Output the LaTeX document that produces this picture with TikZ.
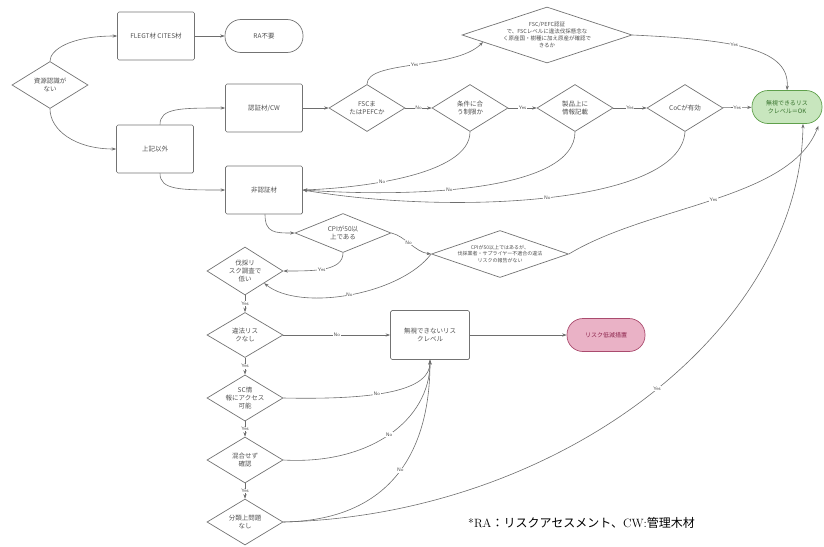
\documentclass[tikz,border=0pt]{standalone}
\usepackage{fontspec}
\newfontfamily\jp{Noto Sans CJK JP}
\usetikzlibrary{shapes.geometric,arrows.meta,calc}
\definecolor{linegray}{RGB}{110,110,110}
\definecolor{boxgray}{RGB}{115,115,115}
\definecolor{txtgray}{RGB}{80,80,80}
\definecolor{gfill}{RGB}{200,230,190}
\definecolor{gdraw}{RGB}{95,160,75}
\definecolor{gtext}{RGB}{55,115,45}
\definecolor{pfill}{RGB}{234,178,198}
\definecolor{pdraw}{RGB}{170,75,110}
\definecolor{ptext}{RGB}{140,35,75}
\begin{document}
\begin{tikzpicture}[x=1pt,y=-1pt,
  conn/.style={draw=linegray, line width=0.6pt, -{Stealth[length=4.5pt,width=3.2pt]}},
  box/.style={draw=boxgray, line width=0.7pt, rounded corners=1.5pt, minimum width=77pt, minimum height=48pt, inner sep=1pt, align=center, text=txtgray, font=\jp\fontsize{6.5}{8}\selectfont},
  pill/.style={draw=boxgray, line width=0.7pt, rounded corners=16pt, minimum width=78pt, minimum height=33pt, inner sep=1pt, align=center, text=txtgray, font=\jp\fontsize{6.5}{8}\selectfont},
  dia/.style={diamond, draw=boxgray, line width=0.7pt, minimum width=76pt, minimum height=47pt, inner sep=0pt, aspect=1.6, align=center, text=txtgray, font=\jp\fontsize{6.5}{8}\selectfont},
  lab/.style={fill=white, inner sep=0.6pt, text=txtgray, font=\sffamily\fontsize{5}{6}\selectfont},
]
\useasboundingbox (0,0) rectangle (824,546);

% nodes
\node[dia] (d0) at (50,85) {資源認識が\\ない};
\node[box] (b1) at (156,36) {FLEGT材 CITES材};
\node[pill] (r1) at (264,36) {RA不要};
\node[box] (b2) at (264,108) {認証材/CW};
\node[box] (b3) at (155,149) {上記以外};
\node[box] (b4) at (264,190) {非認証材};
\node[dia] (d1) at (367,108) {FSCま\\たはPEFCか};
\node[dia, minimum width=170pt, minimum height=56pt, aspect=3, font=\jp\fontsize{5.5}{7}\selectfont] (dt) at (547,35)
  {FSC/PEFC認証\\で、FSCレベルに違法伐採懸念な\\く原産国・樹種に加え原産が確認で\\きるか};
\node[dia] (d2) at (470,108) {条件に合\\う制限か};
\node[dia] (d3) at (575,108) {製品上に\\情報記載};
\node[dia] (d4) at (685,108) {CoCが有効};
\node[pill, minimum width=70pt, fill=gfill, draw=gdraw, text=gtext, font=\jp\fontsize{6}{7.5}\selectfont] (g) at (787,107) {無視できるリス\\クレベル＝OK};
\node[dia, minimum width=96pt, minimum height=39pt, aspect=2] (d5) at (343,233) {CPIが50以\\上である};
\node[dia, minimum width=137pt, aspect=2.9, font=\jp\fontsize{5}{6.5}\selectfont] (d7) at (500,254)
  {CPIが50以上ではあるが、\\伐採業者・サプライヤー不適合の違法\\リスクの報告がない};
\node[dia, minimum height=48pt] (d6) at (245,271) {伐採リ\\スク調査で\\低い};
\node[dia, minimum height=45pt] (d8) at (245,335) {違法リス\\クなし};
\node[dia, minimum height=46pt] (d9) at (245,398) {SC情\\報にアクセス\\可能};
\node[dia, minimum height=46pt] (d10) at (245,460) {混合せず\\確認};
\node[dia, minimum height=46pt] (d11) at (245,522) {分類上問題\\なし};
\node[box, minimum width=79pt, minimum height=49pt] (b5) at (430,335) {無視できないリス\\クレベル};
\node[pill, fill=pfill, draw=pdraw, text=ptext, font=\jp\fontsize{6}{7.5}\selectfont] (p) at (606,335) {リスク低減措置};
\node[anchor=west, inner sep=0pt, text=black, font=\fontsize{12}{14}\selectfont] (fn) at (468,523)
  {\rmfamily *RA{\jp ：リスクアセスメント、}CW:{\jp 管理木材}};

% connectors
\draw[conn] (d0.north) .. controls (50,50) and (70,36) .. (b1.west);
\draw[conn] (d0.south) .. controls (50,130) and (75,149) .. (b3.west);
\draw[conn] (b1) -- (r1);
\draw[conn] ([xshift=5pt]b3.north) .. controls (160,108) and (180,108) .. (b2.west);
\draw[conn] ([xshift=5pt]b3.south) .. controls (160,190) and (180,190) .. (b4.west);
\draw[conn] (b2) -- (d1);
\draw[conn] (d1.north) .. controls (367,60) and (455,70) .. ($(dt.west)!0.25!(dt.south)$) node[lab, pos=0.5] {Yes};
\draw[conn] (d1) -- node[lab] {No} (d2);
\draw[conn] (d2) -- node[lab] {Yes} (d3);
\draw[conn] (d3) -- node[lab] {Yes} (d4);
\draw[conn] (d4) -- node[lab] {Yes} (g);
\draw[conn] (dt.east) .. controls (740,40) and (790,50) .. (g.north) node[lab, pos=0.4] {Yes};
\draw[conn] (d2.south) .. controls (470,175) and (360,188) .. (b4.east) node[lab, pos=0.62] {No};
\draw[conn] (d3.south) .. controls (575,190) and (420,198) .. (b4.east) node[lab, pos=0.6] {No};
\draw[conn] (d4.south) .. controls (680,205) and (450,215) .. (b4.east) node[lab, pos=0.5] {No};
\draw[conn] ([xshift=1pt]b4.south) .. controls (265,233) and (275,233) .. (d5.west);
\draw[conn] (d5.south) .. controls (343,271) and (315,271) .. (d6.east) node[lab, pos=0.55] {Yes};
\draw[conn] (d5.east) .. controls (405,236) and (415,252) .. (d7.west) node[lab, pos=0.45] {No};
\draw[conn] (d7.west) .. controls (400,295) and (300,312) .. (d6.south east) node[lab, pos=0.5] {No};
\draw[conn] (d7.east) .. controls (650,205) and (790,200) .. ([xshift=-4pt,yshift=-2pt]g.south east) node[lab, pos=0.5] {Yes};
\draw[conn] (d11.east) .. controls (560,515) and (800,330) .. ([xshift=16pt]g.south) node[lab, pos=0.52] {Yes};
\draw[conn] (d6) -- node[lab] {Yes} (d8);
\draw[conn] (d8) -- node[lab] {Yes} (d9);
\draw[conn] (d9) -- node[lab] {Yes} (d10);
\draw[conn] (d10) -- node[lab] {Yes} (d11);
\draw[conn] (d8) -- node[lab] {No} (b5);
\draw[conn] (d9.east) .. controls (380,400) and (430,390) .. (b5.south) node[lab, pos=0.4] {No};
\draw[conn] (d10.east) .. controls (370,465) and (430,420) .. (b5.south) node[lab, pos=0.5] {No};
\draw[conn] (d11.east) .. controls (400,520) and (430,440) .. (b5.south) node[lab, pos=0.5] {No};
\draw[conn] (b5) -- (p);
\end{tikzpicture}
\end{document}
